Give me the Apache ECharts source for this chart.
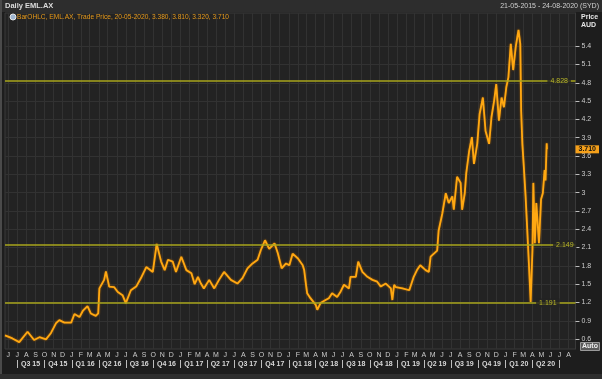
<!DOCTYPE html>
<html><head><meta charset="utf-8">
<script src="https://cdn.jsdelivr.net/npm/echarts@6/dist/echarts.min.js"></script>
<style>html,body{margin:0;padding:0;background:#1d1d1d;overflow:hidden}#c{width:602px;height:379px}</style>
</head><body><div id="c"></div><script>
// ---- data ----
const dates = ['2015-05-21','2015-06-15','2015-07-08','2015-08-05','2015-08-27','2015-09-14','2015-10-06','2015-10-23','2015-11-09','2015-11-20',
'2015-12-07','2015-12-30','2016-01-10','2016-01-27','2016-02-07','2016-02-23','2016-03-05','2016-03-22','2016-03-30','2016-04-03',
'2016-04-19','2016-04-25','2016-05-06','2016-05-23','2016-06-04','2016-06-20','2016-07-01','2016-07-18','2016-08-05','2016-08-21',
'2016-09-08','2016-09-30','2016-10-13','2016-10-28','2016-11-09','2016-11-20','2016-12-06','2016-12-17','2017-01-04','2017-01-21',
'2017-02-07','2017-02-18','2017-03-01','2017-03-11','2017-03-21','2017-04-08','2017-04-25','2017-05-11','2017-05-28','2017-06-20',
'2017-07-12','2017-07-29','2017-08-15','2017-09-01','2017-09-18','2017-09-29','2017-10-13','2017-10-27','2017-11-14','2017-11-25',
'2017-12-08','2017-12-23','2018-01-03','2018-01-14','2018-02-01','2018-02-17','2018-02-22','2018-02-26','2018-03-04','2018-03-15',
'2018-04-02','2018-04-07','2018-04-18','2018-05-05','2018-05-16','2018-05-27','2018-06-13','2018-06-25','2018-07-06','2018-07-23',
'2018-07-28','2018-08-15','2018-08-23','2018-09-06','2018-09-23','2018-10-10','2018-10-26','2018-11-07','2018-11-24','2018-12-11',
'2018-12-16','2018-12-22','2018-12-28','2019-01-19','2019-02-11','2019-02-26','2019-03-09','2019-03-20','2019-04-07','2019-04-18',
'2019-04-24','2019-05-05','2019-05-16','2019-05-21','2019-06-02','2019-06-14','2019-06-24','2019-07-06','2019-07-11','2019-07-22',
'2019-08-03','2019-08-08','2019-08-17','2019-08-22','2019-09-01','2019-09-10','2019-09-17','2019-09-28','2019-10-06','2019-10-17',
'2019-10-26','2019-11-07','2019-11-15','2019-11-24','2019-12-01','2019-12-10','2019-12-19','2019-12-27','2020-01-04','2020-01-11',
'2020-01-19','2020-01-27','2020-02-05','2020-02-14','2020-02-20','2020-02-23','2020-02-27','2020-03-03','2020-03-09','2020-03-14',
'2020-03-20','2020-03-26','2020-04-01','2020-04-04','2020-04-09','2020-04-14','2020-04-23','2020-04-30','2020-05-06','2020-05-12',
'2020-05-15','2020-05-19','2020-05-20'];
const prices = [0.66,0.61,0.55,0.72,0.585,0.63,0.595,0.70,0.86,0.91,
0.87,0.87,1.01,0.96,1.06,1.14,1.02,0.98,1.02,1.43,
1.57,1.71,1.46,1.45,1.37,1.32,1.19,1.40,1.46,1.60,
1.78,1.70,2.16,1.87,1.73,1.90,1.87,1.70,1.95,1.73,
1.68,1.50,1.62,1.51,1.43,1.57,1.43,1.57,1.70,1.57,
1.51,1.60,1.76,1.84,1.90,2.06,2.22,2.08,2.17,2.01,
1.76,1.84,1.81,2.00,1.92,1.81,1.73,1.57,1.35,1.27,
1.16,1.08,1.19,1.24,1.27,1.35,1.29,1.38,1.49,1.43,
1.62,1.62,1.87,1.70,1.62,1.57,1.54,1.46,1.51,1.43,
1.24,1.49,1.45,1.43,1.40,1.62,1.73,1.81,1.73,1.70,
1.95,2.00,2.05,2.38,2.65,2.99,2.83,2.94,2.72,3.26,
3.16,2.72,2.99,3.32,3.69,3.91,3.47,3.80,4.29,4.56,
4.01,3.80,4.24,4.51,4.78,4.18,4.56,4.40,4.73,4.89,
5.44,5.01,5.40,5.67,5.44,4.34,3.80,3.42,2.93,2.44,
1.84,1.21,2.06,3.16,2.17,2.83,2.17,2.89,2.99,3.37,
3.20,3.81,3.71];
const levelValues = [4.828, 2.149, 1.191];
const levelLabelDates = ['2020-06-30', '2020-07-19', '2020-05-23'];
const lastClose = 3.710;
const yTickValues = [0.6,0.9,1.2,1.5,1.8,2.1,2.4,2.7,3.0,3.3,3.6,3.9,4.2,4.5,4.8,5.1,5.4];
const monthLetters = ['J','F','M','A','M','J','J','A','S','O','N','D'];
const rangeStart = '2015-05-21', rangeEnd = '2020-08-24';
const legendText = 'BarOHLC, EML.AX, Trade Price, 20-05-2020, 3.380, 3.810, 3.320, 3.710';

// ---- helpers ----
const ts = s => { const p = s.split('-').map(Number); return +new Date(p[0], p[1] - 1, p[2]); };
const monthTicks = [];
for (let y = 2015, m = 5; y < 2020 || (y === 2020 && m <= 7); m++) {
  if (m > 11) { m = 0; y++; }
  monthTicks.push(+new Date(y, m, 1));
}
const quarterStarts = [], quarterMids = [];
for (let y = 2015, q = 2; y < 2020 || (y === 2020 && q <= 2); q++) {
  if (q > 3) { q = 0; y++; }
  quarterStarts.push(+new Date(y, q * 3, 1));
  if (!(y === 2020 && q === 2)) quarterMids.push(+new Date(y, q * 3 + 1, 15));
}

const FONT = 'Liberation Sans';
const txt = '#cccccc';
const yMin = 0.437, yMax = 5.945;
const xMin = ts(rangeStart), xMax = ts(rangeEnd);

const chart = echarts.init(document.getElementById('c'), null, {renderer: 'canvas'});
chart.setOption({
  backgroundColor: '#1d1d1d',
  animation: false,
  textStyle: {fontFamily: FONT},
  grid: {left: 5, right: 25, top: 13, bottom: 30, show: true, backgroundColor: '#232323', borderColor: '#3a3a3a', borderWidth: 1},
  xAxis: [{
    type: 'value', min: xMin, max: xMax,
    axisLine: {show: false},
    axisTick: {show: false, customValues: monthTicks},
    axisLabel: {customValues: monthTicks, color: txt, fontSize: 7, fontFamily: FONT, margin: 3, hideOverlap: false,
      formatter: v => monthLetters[new Date(v).getMonth()]},
    splitLine: {show: true, lineStyle: {color: '#323232', width: 1}}
  }, {
    type: 'value', min: xMin, max: xMax, position: 'bottom', offset: 11,
    axisLine: {show: false},
    axisTick: {show: true, customValues: quarterStarts, length: 8, lineStyle: {color: '#bdbdbd', width: 1}},
    axisLabel: {customValues: quarterMids, color: '#d8d8d8', fontSize: 7, fontWeight: 'bold', fontFamily: FONT, margin: 1, hideOverlap: false,
      formatter: v => { const d = new Date(v); return 'Q' + (Math.floor(d.getMonth() / 3) + 1) + ' ' + String(d.getFullYear()).slice(2); }},
    splitLine: {show: false}
  }],
  yAxis: [{
    type: 'value', position: 'right', min: yMin, max: yMax,
    axisLine: {show: true, lineStyle: {color: '#3a3a3a'}},
    axisTick: {show: true, customValues: yTickValues, length: 4, inside: false, lineStyle: {color: '#bdbdbd'}},
    axisLabel: {customValues: yTickValues, color: txt, fontSize: 7, fontFamily: FONT, margin: 6,
      formatter: v => String(+(+v).toFixed(1))},
    splitLine: {show: true, lineStyle: {color: '#323232', width: 1}}
  }, {
    type: 'value', position: 'right', min: yMin, max: yMax, offset: 0,
    axisLine: {show: false}, axisTick: {show: false}, splitLine: {show: false},
    axisLabel: {customValues: [lastClose], color: '#111', fontSize: 7, fontWeight: 'bold', fontFamily: FONT, margin: 0,
      backgroundColor: '#f5a01a', padding: [1, 3, 0, 3], formatter: v => (+v).toFixed(3)}
  }],
  series: [{
    type: 'line', name: 'EML.AX',
    data: dates.map((d, i) => [ts(d), prices[i]]),
    showSymbol: false, symbol: 'none',
    lineStyle: {color: '#ffa812', width: 1.8, shadowColor: 'rgba(190,110,0,0.9)', shadowBlur: 2},
    z: 3,
    markLine: {
      silent: true, symbol: ['none', 'none'], animation: false,
      lineStyle: {color: '#a9a61d', width: 1.5, type: 'solid'},
      label: {show: false},
      data: levelValues.map(v => ({yAxis: v}))
    }
  }, {
    type: 'scatter', name: 'levels',
    data: levelValues.map((v, i) => [ts(levelLabelDates[i]), v]),
    symbolSize: 1, itemStyle: {color: 'rgba(0,0,0,0)'}, z: 10, silent: true,
    label: {show: true, position: 'inside', color: '#d6d32a', fontSize: 7, fontFamily: FONT,
      backgroundColor: '#232323', padding: [1, 3], formatter: p => (+p.value[1]).toFixed(3)}
  }],
  graphic: [
    {type: 'rect', left: 0, top: 0, shape: {width: 602, height: 12}, style: {fill: '#2d2d2d'}, z: -1},
    {type: 'rect', left: 0, top: 0, shape: {width: 2, height: 379}, style: {fill: '#4a4a4a'}, z: 100},
    {type: 'rect', left: 0, top: 374, shape: {width: 602, height: 5}, style: {fill: '#2e2e2e'}, z: 100},
    {type: 'text', left: 5, top: 2, style: {text: 'Daily EML.AX', fill: '#dcdcdc', font: 'bold 7.5px ' + FONT}, z: 100},
    {type: 'text', right: 3, top: 3, style: {text: '21-05-2015 - 24-08-2020 (SYD)', fill: '#cfcfcf', font: '7px ' + FONT}, z: 100},
    {type: 'circle', shape: {cx: 13, cy: 17, r: 3}, style: {fill: '#9fb6d0', stroke: '#e8e8e8', lineWidth: 1}, z: 100},
    {type: 'text', left: 17, top: 13.5, style: {text: legendText, fill: '#e89a1a', font: '6.6px ' + FONT}, z: 100},
    {type: 'text', left: 581, top: 14, style: {text: 'Price', fill: '#e6e6e6', font: 'bold 7px ' + FONT}, z: 100},
    {type: 'text', left: 581, top: 22, style: {text: 'AUD', fill: '#e6e6e6', font: 'bold 7px ' + FONT}, z: 100},
    {type: 'rect', left: 580, top: 342, shape: {width: 19, height: 8}, style: {fill: '#5a5a5a', stroke: '#9a9a9a', lineWidth: 1}, z: 100},
    {type: 'text', left: 582, top: 342.5, style: {text: 'Auto', fill: '#f0f0f0', font: 'bold 7px ' + FONT}, z: 101}
  ]
});
</script></body></html>
